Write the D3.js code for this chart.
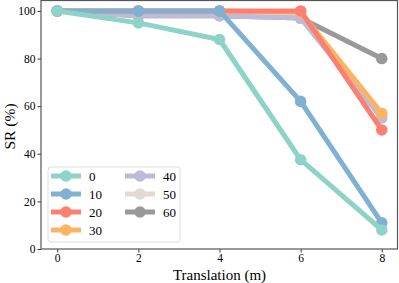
<!DOCTYPE html>
<html>
<head>
<meta charset="utf-8">
<script src="https://cdn.jsdelivr.net/npm/d3@7"></script>
<style>
  body { margin: 0; background: #fff; }
  text { font-family: "Liberation Serif", "Times New Roman", serif; fill: #000; }
</style>
</head>
<body>
<div id="vis"></div>
<script>
const W = 399, H = 283;
const margin = { top: 0, right: 1, bottom: 34, left: 41 };
const width = W - margin.left - margin.right;
const height = H - margin.top - margin.bottom;

// data
const translations = [0, 2, 4, 6, 8];
const seriesNames = ["0", "10", "20", "30", "40", "50", "60"];
const sr0  = [100, 95, 88, 37.5, 8];
const sr10 = [100, 100, 100, 62, 11];
const sr20 = [100, 100, 100, 100, 50];
const sr30 = [100, 100, 100, 99.5, 57];
const sr40 = [100, 98, 98, 97, 55];
const sr50 = [100, 98.5, 98.5, 97.5, 56];
const sr60 = [100, 98, 98, 97, 80];
const colors = ["#8dd3c7", "#80b1d3", "#fb8072", "#fdb462", "#bebada", "#e3d9d3", "#999999"];
const yTicks = [0, 20, 40, 60, 80, 100];
const xTicks = [0, 2, 4, 6, 8];

const allSeries = [sr0, sr10, sr20, sr30, sr40, sr50, sr60].map((v, i) => ({
    name: seriesNames[i],
    color: colors[i],
    values: v.map((y, j) => ({ x: translations[j], y }))
}));

const svg = d3.select("#vis").append("svg")
    .attr("width", W).attr("height", H);

const g = svg.append("g").attr("transform", `translate(${margin.left},${margin.top})`);

const x = d3.scaleLinear().domain([-0.4, 8.4]).range([0, width]);
const y = d3.scaleLinear().domain([0, 104.6]).range([height, 0]);

const line = d3.line().x(d => x(d.x)).y(d => y(d.y));

// draw in reverse so "0" ends on top
allSeries.slice().reverse().forEach(s => {
    g.append("path")
        .datum(s.values)
        .attr("fill", "none")
        .attr("stroke", s.color)
        .attr("stroke-width", 5)
        .attr("stroke-linejoin", "round")
        .attr("d", line);
    g.selectAll(null)
        .data(s.values)
        .enter().append("circle")
        .attr("cx", d => x(d.x))
        .attr("cy", d => y(d.y))
        .attr("r", 5.8)
        .attr("fill", s.color);
});

// axes
const xAxis = g.append("g")
    .attr("transform", `translate(0,${height})`)
    .call(d3.axisBottom(x).tickValues(xTicks).tickSize(3.5).tickPadding(1));
const yAxis = g.append("g")
    .call(d3.axisLeft(y).tickValues(yTicks).tickSize(3.5).tickPadding(2));
[xAxis, yAxis].forEach(a => {
    a.select(".domain").remove();
    a.selectAll("line").attr("stroke", "#333");
    a.selectAll("text").style("font-size", "11.5px").style("font-family", "Liberation Serif, serif");
});

// frame
g.append("rect")
    .attr("x", 0).attr("y", 0.5)
    .attr("width", width - 0.5).attr("height", height - 0.5)
    .attr("fill", "none")
    .attr("stroke", "#555")
    .attr("stroke-width", 1.2);

// axis titles
svg.append("text")
    .attr("x", margin.left + width / 2)
    .attr("y", H - 3)
    .attr("text-anchor", "middle")
    .style("font-size", "15px")
    .text("Translation (m)");

svg.append("text")
    .attr("transform", `translate(15,${margin.top + height / 2 + 2}) rotate(-90)`)
    .attr("text-anchor", "middle")
    .style("font-size", "15.5px")
    .text("SR (%)");

// legend
const legend = svg.append("g").attr("transform", "translate(48,167)");
legend.append("rect")
    .attr("width", 132).attr("height", 75)
    .attr("rx", 3)
    .attr("fill", "#fff").attr("fill-opacity", 0.8)
    .attr("stroke", "#ddd");

allSeries.forEach((s, i) => {
    const col = i < 4 ? 0 : 1;
    const row = i < 4 ? i : i - 4;
    const item = legend.append("g")
        .attr("transform", `translate(${3 + col * 74},${9 + row * 18})`);
    item.append("line")
        .attr("x1", 0).attr("x2", 30)
        .attr("stroke", s.color).attr("stroke-width", 5);
    item.append("circle")
        .attr("cx", 15).attr("r", 5.8).attr("fill", s.color);
    item.append("text")
        .attr("x", 38).attr("dy", "0.35em")
        .style("font-size", "13px")
        .text(s.name);
});
</script>
</body>
</html>
